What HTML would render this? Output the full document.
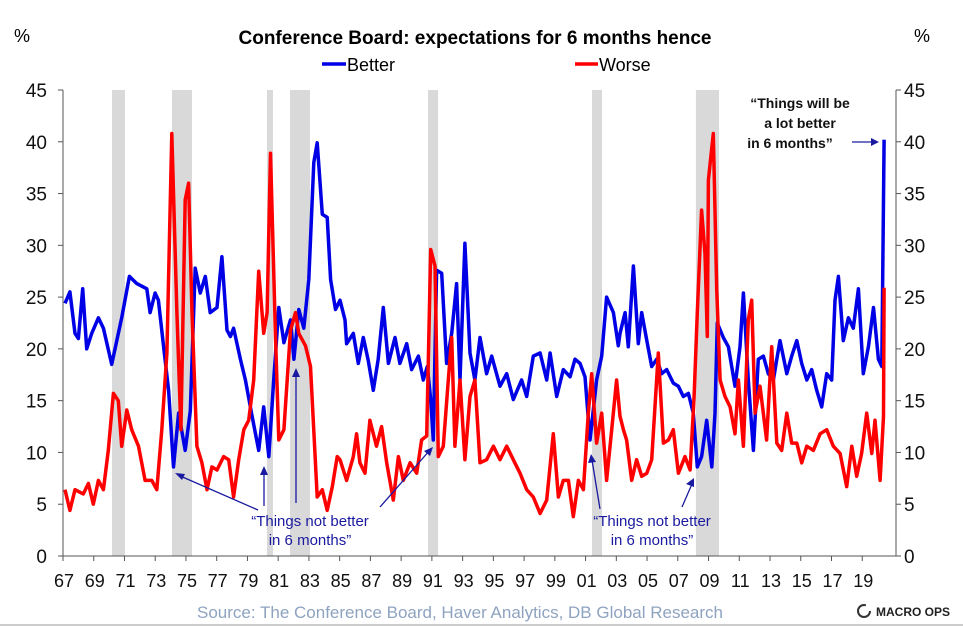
<!DOCTYPE html>
<html><head><meta charset="utf-8"><style>
html,body{margin:0;padding:0;background:#fff;}
svg{display:block;font-family:"Liberation Sans",Arial,sans-serif;}
</style></head><body>
<svg id="chart" width="963" height="626" viewBox="0 0 963 626" xmlns="http://www.w3.org/2000/svg">
<text x="475" y="44" text-anchor="middle" font-size="19" font-weight="bold" fill="#000">Conference Board: expectations for 6 months hence</text>
<text x="14" y="42" font-size="18" fill="#000">%</text>
<text x="914" y="42" font-size="18" fill="#000">%</text>
<g>
<g><line x1="322" y1="64" x2="346" y2="64" stroke="#0000e6" stroke-width="3.5"/><text x="347" y="71" font-size="18" fill="#000">Better</text></g>
<g><line x1="575" y1="64" x2="598" y2="64" stroke="#ff0000" stroke-width="3.5"/><text x="599" y="71" font-size="18" fill="#000">Worse</text></g>
</g>
<g id="recessions"></g>
<g id="axes"></g>
<g id="series"></g>
<g fill="#1a1aa0" font-size="15">
<text text-anchor="middle"><tspan x="310" y="526">“Things not better</tspan><tspan x="310" y="545">in 6 months”</tspan></text>
<text text-anchor="middle"><tspan x="652" y="526">“Things not better</tspan><tspan x="652" y="545">in 6 months”</tspan></text>
<g stroke="#1a1aa0" stroke-width="1.3">
<line x1="258" y1="510" x2="178" y2="475"/><polygon points="175,473 185,474 182,480" fill="#1a1aa0" stroke="none"/>
<line x1="264" y1="506" x2="264" y2="472"/><polygon points="264,466 260,475 268,475" fill="#1a1aa0" stroke="none"/>
<line x1="296" y1="503" x2="296" y2="374"/><polygon points="296,368 292,377 300,377" fill="#1a1aa0" stroke="none"/>
<line x1="380" y1="507" x2="430" y2="450"/><polygon points="433,447 424,451 430,456" fill="#1a1aa0" stroke="none"/>
<line x1="600" y1="509" x2="592" y2="460"/><polygon points="591,454 588,463 596,462" fill="#1a1aa0" stroke="none"/>
<line x1="682" y1="507" x2="692" y2="484"/><polygon points="694,478 686,484 694,487" fill="#1a1aa0" stroke="none"/>
<line x1="852" y1="142" x2="873" y2="142"/><polygon points="879,142 871,138 871,146" fill="#1a1aa0" stroke="none"/>
</g>
<text text-anchor="middle" fill="#111" font-size="14" font-weight="bold"><tspan x="800" y="108">“Things will be</tspan><tspan x="800" y="128">a lot better</tspan><tspan x="790" y="148">in 6 months”</tspan></text>
</g>
<text x="460" y="618" text-anchor="middle" font-size="17" fill="#8ea3c0">Source: The Conference Board, Haver Analytics, DB Global Research</text>
<g>
<circle cx="864" cy="611" r="6" fill="none" stroke="#333" stroke-width="2" stroke-dasharray="30 8"/>
<text x="876" y="616" font-size="12" font-weight="bold" fill="#222">MACRO OPS</text>
</g>
<line x1="0" y1="625" x2="963" y2="625" stroke="#ccc" stroke-width="2"/>
</svg>
<script>
const yTicks=[0,5,10,15,20,25,30,35,40,45];
const xTickLabels=["67","69","71","73","75","77","79","81","83","85","87","89","91","93","95","97","99","01","03","05","07","09","11","13","15","17","19"];
const recessionStarts=[1970.19,1974.09,1980.27,1981.77,1990.75,2001.42,2008.18];
const recessionEnds=[1971.03,1975.39,1980.66,1983.07,1991.4,2002.07,2009.68];
const betterDates=[1967.13,1967.45,1967.78,1968.0,1968.28,1968.54,1968.87,1969.3,1969.63,1970.17,1970.82,1971.32,1971.8,1972.45,1972.67,1972.99,1973.21,1973.54,1973.87,1974.19,1974.52,1974.95,1975.28,1975.6,1975.93,1976.26,1976.58,1977.02,1977.34,1977.67,1977.89,1978.1,1978.54,1978.87,1979.3,1979.73,1980.06,1980.39,1980.71,1981.04,1981.37,1981.8,1982.02,1982.34,1982.67,1982.99,1983.32,1983.54,1983.87,1984.19,1984.41,1984.73,
1985.02,1985.35,1985.45,1985.89,1986.21,1986.54,1986.86,1987.19,1987.51,1987.84,1988.17,1988.6,1988.92,1989.36,1989.68,1990.12,1990.44,1990.7,1990.92,1991.09,1991.31,1991.64,1991.96,1992.29,1992.61,1992.83,1993.15,1993.48,1993.8,1994.13,1994.56,1994.89,1995.43,1995.87,1996.3,1996.84,1997.17,1997.6,1998.04,1998.47,1998.69,1999.12,1999.55,1999.99,2000.31,2000.64,2000.96,2001.29,2001.72,2002.05,2002.37,2002.81,2003.13,
2003.24,2003.57,2003.78,2004.11,2004.43,2004.65,2004.98,2005.3,2005.63,2005.95,2006.28,2006.71,2007.04,2007.36,2007.69,2008.01,2008.27,2008.55,2008.88,2009.21,2009.42,2009.57,2009.96,2010.29,2010.72,2011.05,2011.27,2011.59,2011.92,2012.24,2012.57,2012.89,2013.22,2013.44,2013.65,2014.09,2014.41,2014.74,2015.06,2015.39,2015.71,2016.04,2016.36,2016.69,2017.01,2017.23,2017.45,2017.77,2018.1,2018.42,2018.75,2019.07,2019.4,2019.73,2020.05,2020.27,2020.42];
const betterValues=[24.4,25.5,21.5,21,25.8,20,21.5,23,22,18.5,23,27,26.3,25.8,23.5,25.4,24.7,20.3,16,8.6,13.8,10.2,14,27.8,25.4,27,23.5,24,28.9,21.8,21.2,22,19,17,13.5,10.2,14.4,9.6,17,24,20.6,22.8,19,23.8,22,26.7,38,39.9,33,32.7,26.7,23.8,
24.7,22.8,20.5,21.5,18.6,21.1,18.9,16,19,24,18.6,21.1,18.6,20.5,18,19.3,17,18.3,15.1,11.2,27.6,27.3,18.6,21.5,26.3,17,30.2,19.6,17,21.1,17.6,19.3,16.4,17.6,15.1,17,15.4,19.3,19.6,17,19.6,15.4,18,17.3,19,18.6,17.3,11.2,17,19.3,25,23.5,20.3,
21.5,23.5,20.2,28,20.5,23.5,20.8,18.3,19,17.6,18,16.7,16.4,15.4,15.7,13.8,8.6,9.6,13.1,8.6,13.8,22.5,21.1,20.2,16.4,20.2,25.4,17,10.2,19,19.3,17.6,17,19,20.8,17.6,19.3,20.8,18.6,17,18,16,14.4,17.6,17,24.7,27,20.8,23,22,25.8,17.6,20.2,24,19,18.3,40.2];
const worseDates=[1967.13,1967.45,1967.78,1968.32,1968.65,1968.97,1969.3,1969.63,1969.95,1970.28,1970.6,1970.82,1971.15,1971.47,1971.91,1972.34,1972.78,1973.1,1973.43,1973.76,1974.08,1974.41,1974.67,1974.95,1975.17,1975.39,1975.71,1976.04,1976.37,1976.69,1977.02,1977.45,1977.78,1978.1,1978.43,1978.76,1979.08,1979.41,1979.73,1980.06,1980.28,1980.5,1980.82,1981.04,1981.37,1981.8,1982.13,1982.34,1982.78,1983.1,1983.54,1983.87,1984.19,1984.52,1984.84,
1985.02,1985.45,1985.89,1986.1,1986.32,1986.65,1986.97,1987.4,1987.73,1988.06,1988.49,1988.82,1989.14,1989.58,1990.01,1990.33,1990.66,1990.92,1991.2,1991.42,1991.74,1992.07,1992.29,1992.5,1992.83,1993.15,1993.48,1993.8,1994.13,1994.56,1995.0,1995.43,1995.87,1996.3,1996.73,1997.17,1997.6,1998.04,1998.47,1998.9,1999.23,1999.55,1999.88,2000.2,2000.53,2000.86,2001.18,2001.4,2001.72,2002.05,2002.37,2002.7,2003.02,
2003.24,2003.46,2003.67,2004.0,2004.32,2004.65,2004.98,2005.3,2005.73,2006.06,2006.39,2006.71,2007.04,2007.47,2007.8,2008.06,2008.27,2008.55,2008.77,2008.92,2008.99,2009.31,2009.53,2009.75,2010.07,2010.4,2010.72,2010.94,2011.27,2011.59,2011.81,2012.03,2012.35,2012.78,2013.11,2013.44,2013.76,2014.09,2014.41,2014.74,2015.06,2015.39,2015.82,2016.26,2016.69,2017.12,2017.56,2017.99,2018.32,2018.64,2018.96,2019.29,2019.62,2019.83,2020.16,2020.38,2020.42];
const worseValues=[6.4,4.4,6.4,6,7,5,7.3,6.4,10.2,15.7,15,10.6,14.1,12.2,10.6,7.3,7.3,6.4,12.2,19.6,40.8,23.5,12.2,34.4,36,23.5,10.6,9,6.4,8.6,8.3,9.6,9.3,5.7,9.3,12.2,13.1,17,27.5,21.5,23.5,38.9,21.5,11.2,12.2,21.8,23.5,21.5,20.3,18.3,5.7,6.4,4.4,6.7,9.6,
9.3,7.3,9.6,11.8,9,8,13.1,10.6,12.5,9,5.4,9.6,7.3,9,8,11.2,11.6,29.6,28,9.6,10.6,17,21.1,10.6,17,9.3,15.4,17,9,9.3,10.6,9.3,10.6,9.3,8,6.4,5.7,4.1,5.4,11.8,5.7,7.3,7.3,3.8,7.3,6.4,13.8,17.6,10.9,13.8,7.3,12.2,17,
13.5,12.2,11.2,7.3,9.3,7.7,8,9.3,19.6,10.9,11.2,12.2,8,9.6,8.3,15.4,23.5,33.4,29.2,21.2,36.3,40.8,25.8,17,15.4,14.4,11.8,17,10.6,22.8,24.7,13.8,16.4,11.2,20.2,10.9,10.2,13.8,10.9,10.9,9,10.6,10.2,11.8,12.2,10.6,9.9,6.7,10.6,7.7,9.9,13.8,9.9,13.1,7.3,13.5,25.9];

const NS="http://www.w3.org/2000/svg";
const X0=63,X1=896,Y0=556,Ymax=45,Ypx=466;
function xScale(yr){return X0+(yr-1967)*15.37;}
function yScale(v){return Y0-v/Ymax*Ypx;}
function mk(tag,attrs,parent){const e=document.createElementNS(NS,tag);for(const k in attrs)e.setAttribute(k,attrs[k]);parent.appendChild(e);return e;}

const rec=document.getElementById('recessions');
recessionStarts.forEach((s,i)=>{
  const r=mk('rect',{x:xScale(s),y:yScale(45),width:xScale(recessionEnds[i])-xScale(s),height:Y0-yScale(45),fill:'#d9d9d9'},rec);
  
  
});

const ax=document.getElementById('axes');
let l=mk('line',{x1:X0,y1:yScale(45),x2:X0,y2:Y0,stroke:'#555','stroke-width':1},ax);


l=mk('line',{x1:X1,y1:yScale(45),x2:X1,y2:Y0,stroke:'#555','stroke-width':1},ax);


l=mk('line',{x1:X0,y1:Y0,x2:X1,y2:Y0,stroke:'#555','stroke-width':1},ax);


yTicks.forEach(v=>{
  const y=yScale(v);
  mk('line',{x1:X0-5,y1:y,x2:X0,y2:y,stroke:'#555'},ax);
  mk('line',{x1:X1,y1:y,x2:X1+5,y2:y,stroke:'#555'},ax);
  const t1=mk('text',{x:47,y:y+7,'text-anchor':'end','font-size':19,fill:'#111'},ax);t1.textContent=v;
  
  
  const t2=mk('text',{x:904,y:y+7,'font-size':19,fill:'#111'},ax);t2.textContent=v;
  
  
});
xTickLabels.forEach((lab,i)=>{
  const x=xScale(1967+2*i);
  mk('line',{x1:x,y1:Y0,x2:x,y2:Y0+5,stroke:'#555'},ax);
  const t=mk('text',{x:x+1,y:587,'text-anchor':'middle','font-size':18,fill:'#111'},ax);t.textContent=lab;
  
  
});

const ser=document.getElementById('series');
function pathOf(d,v){return d.map((yr,i)=>(i?'L':'M')+xScale(yr).toFixed(1)+','+yScale(v[i]).toFixed(1)).join(' ');}
const pb=mk('path',{d:pathOf(betterDates,betterValues),fill:'none',stroke:'#0000e6','stroke-width':3.5,'stroke-linejoin':'round'},ser);


const pw=mk('path',{d:pathOf(worseDates,worseValues),fill:'none',stroke:'#ff0000','stroke-width':3.5,'stroke-linejoin':'round'},ser);


</script>
</body></html>
